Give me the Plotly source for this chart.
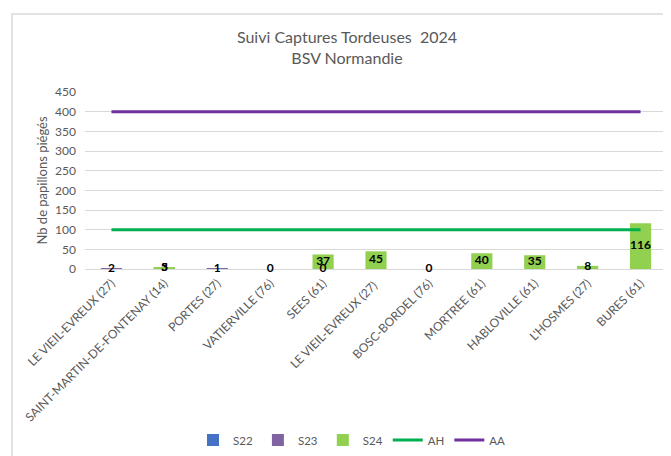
import plotly.graph_objects as go

categories = ["LE VIEIL-EVREUX (27)", "SAINT-MARTIN-DE-FONTENAY (14)", "PORTES (27)",
              "VATIERVILLE (76)", "SEES (61)", "LE VIEIL-EVREUX (27) ", "BOSC-BORDEL (76)",
              "MORTREE (61)", "HABLOVILLE (61)", "L'HOSMES (27)", "BURES (61)"]
s22 = [None] * 11
s23 = [2, 3, 1, 0, 0, None, 0, None, None, None, None]
s24 = [None, 5, None, None, 37, 45, None, 40, 35, 8, 116]
ah = [100] * 11
aa = [400] * 11

FONT = "Lato, 'Open Sans', sans-serif"
GRAY = "#595959"

OFF = 8  # page body margin
W, H = 671 - OFF, 456 - OFF
L, R, T = 85 - OFF, 4, 92 - OFF
B = H - (269 - OFF)
pw, ph = W - L - R, H - T - B

def px_x(x):
    return (x - OFF - L) / pw

def px_y(y):
    return (269 - y) / ph

fig = go.Figure()
colors = {"S22": "#4472C4", "S23": "#8064A2", "S24": "#92D050"}
for name, vals in (("S22", s22), ("S23", s23), ("S24", s24)):
    fig.add_trace(go.Bar(x=categories, y=vals, name=name, width=0.4,
                         marker=dict(color=colors[name], line=dict(width=0))))

fig.add_trace(go.Scatter(x=categories, y=ah, name="AH", mode="lines",
                         line=dict(color="#00B050", width=3)))
fig.add_trace(go.Scatter(x=categories, y=aa, name="AA", mode="lines",
                         line=dict(color="#7030A0", width=3)))

# data labels, centred in bars
for vals in (s23, s24):
    xs = [c for c, v in zip(categories, vals) if v is not None]
    ys = [v / 2 for v in vals if v is not None]
    ts = [f"<b>{v}</b>" for v in vals if v is not None]
    fig.add_trace(go.Scatter(x=xs, y=ys, text=ts, mode="text", showlegend=False,
                             textfont=dict(family=FONT, size=12, color="#000000"),
                             cliponaxis=False, hoverinfo="skip"))

fig.update_layout(
    width=W, height=H,
    margin=dict(l=L, r=R, t=T, b=B, autoexpand=False),
    paper_bgcolor="white", plot_bgcolor="white",
    barmode="overlay",
    font=dict(family=FONT, color=GRAY),
    title=dict(text="Suivi Captures Tordeuses  2024<br>BSV Normandie",
               x=(347 - OFF) / W, xanchor="center", y=1 - 35 / H, yanchor="middle",
               xref="container", yref="container",
               font=dict(size=16, color=GRAY, family=FONT)),
    xaxis=dict(tickangle=-45, tickfont=dict(size=12, color=GRAY), showgrid=False,
               showline=False, ticks="", range=[-0.5, 10.5], automargin=False,
               ticklabelstandoff=4),
    yaxis=dict(range=[0, 450], dtick=50, gridcolor="#D9D9D9", gridwidth=1,
               zeroline=True, zerolinecolor="#D9D9D9", zerolinewidth=1,
               tickfont=dict(size=12, color=GRAY), ticks="",
               automargin=False, ticklabelstandoff=8,
               title=dict(text="Nb de papillons piégés", font=dict(size=13, color=GRAY),
                          standoff=4)),
    legend=dict(orientation="h", x=px_x(352), xanchor="center", y=px_y(440),
                yanchor="middle", font=dict(size=11.5, color=GRAY),
                itemwidth=30, tracegroupgap=0),
    shapes=[dict(type="rect", xref="paper", yref="paper",
                 x0=px_x(12), x1=1.2, y0=-2, y1=px_y(14),
                 line=dict(color="#D9D9D9", width=1.5), layer="below")],
    showlegend=True,
)

fig.write_html("out.html")
